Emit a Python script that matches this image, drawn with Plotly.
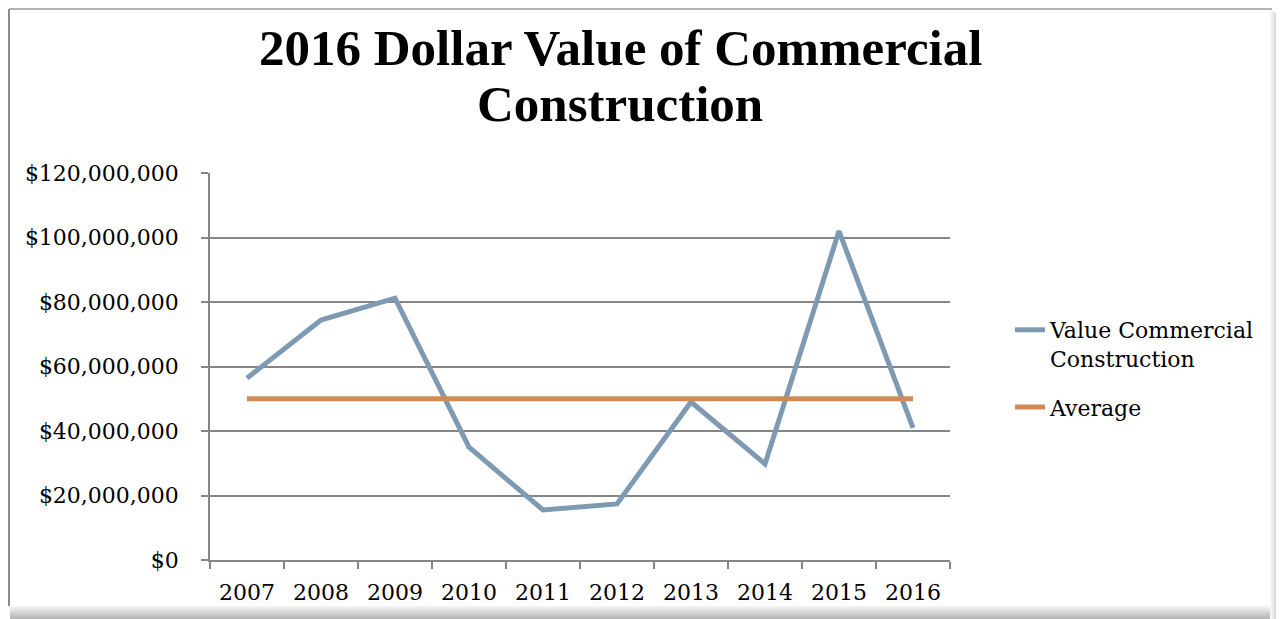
import plotly.graph_objects as go

years = ['2007', '2008', '2009', '2010', '2011', '2012', '2013', '2014', '2015', '2016']
commercial_values = [56.4e6, 74.4e6, 81.2e6, 35.0e6, 15.5e6, 17.4e6, 49.0e6, 29.8e6, 102.0e6, 41.0e6]
average_values = [50.0e6] * 10
y_ticks = [0, 20e6, 40e6, 60e6, 80e6, 100e6, 120e6]
title_lines = ['2016 Dollar Value of Commercial', 'Construction']

# page is rendered with an 8px body margin; work in page pixels
OFF = 8
PW, PH = 1284, 619
W, H = PW - OFF, PH - OFF
L, R, T, B = 210, 950, 173, 560  # plot area in page pixels


def px(x):
    return (x - L) / (R - L)


def py(y):
    return (B - y) / (B - T)


fig = go.Figure()
fig.add_trace(go.Scatter(
    x=years, y=commercial_values, mode='lines',
    name='Value Commercial<br>Construction', legendgroup='a',
    line=dict(color='#7E9AB3', width=5),
))
fig.add_trace(go.Scatter(
    x=years, y=average_values, mode='lines',
    name='Average', legendgroup='b',
    line=dict(color='#D08B55', width=5),
))

axis_col = '#868686'
fig.update_layout(
    width=W, height=H,
    margin=dict(l=L - OFF, r=PW - R, t=T - OFF, b=PH - B, pad=0),
    paper_bgcolor='white', plot_bgcolor='white',
    font=dict(family='DejaVu Serif', size=22, color='black'),
    xaxis=dict(
        type='category', tickson='boundaries', ticks='outside', ticklen=7,
        tickcolor=axis_col, tickwidth=1.5, showline=True, linecolor=axis_col, linewidth=1.5,
        showgrid=False, ticklabelstandoff=12, range=[-0.5, 9.5],
    ),
    yaxis=dict(
        range=[0, 120e6], tickvals=y_ticks, tickformat='$,.0f', ticks='outside', ticklen=7,
        tickcolor=axis_col, tickwidth=1.5, showline=True, linecolor=axis_col, linewidth=1.5,
        showgrid=True, gridcolor=axis_col, gridwidth=1.5, zeroline=False,
        ticklabelstandoff=18,
    ),
    legend=dict(
        x=px(1010), y=py(309), xanchor='left', yanchor='top',
        font=dict(family='DejaVu Serif', size=22), valign='top',
        tracegroupgap=17, bgcolor='rgba(0,0,0,0)',
    ),
    showlegend=True,
)

# title as two annotations
title_centers = [48, 104]
for txt, yc in zip(title_lines, title_centers):
    fig.add_annotation(
        text=f'<b>{txt}</b>', xref='paper', yref='paper', x=px(620), y=py(yc),
        xanchor='center', yanchor='middle', showarrow=False,
        font=dict(family='Liberation Serif', size=51, color='black'),
    )

shapes = []
# chart frame
shapes.append(dict(type='line', xref='paper', yref='paper', x0=px(9), x1=px(9), y0=py(9), y1=py(606),
                   line=dict(color='#8c8c8c', width=2)))
shapes.append(dict(type='line', xref='paper', yref='paper', x0=px(9), x1=px(1272), y0=py(9), y1=py(9),
                   line=dict(color='#9a9a9a', width=1.5)))
# right shadow gradient
for i in range(14):
    xx = 1270 + i
    op = 0.04 + i * 0.045
    shapes.append(dict(type='rect', xref='paper', yref='paper', x0=px(xx), x1=px(xx + 1),
                       y0=py(10 + i * 0.5), y1=py(619), line=dict(width=0),
                       fillcolor=f'rgba(110,110,110,{op:.3f})'))
# bottom shadow gradient
for i in range(14):
    yy = 605 + i
    op = 0.03 + i * 0.04
    shapes.append(dict(type='rect', xref='paper', yref='paper', x0=px(10), x1=px(1270),
                       y0=py(yy), y1=py(yy + 1), line=dict(width=0),
                       fillcolor=f'rgba(120,120,120,{op:.3f})'))
fig.update_layout(shapes=shapes)

fig.write_html('out.html')
